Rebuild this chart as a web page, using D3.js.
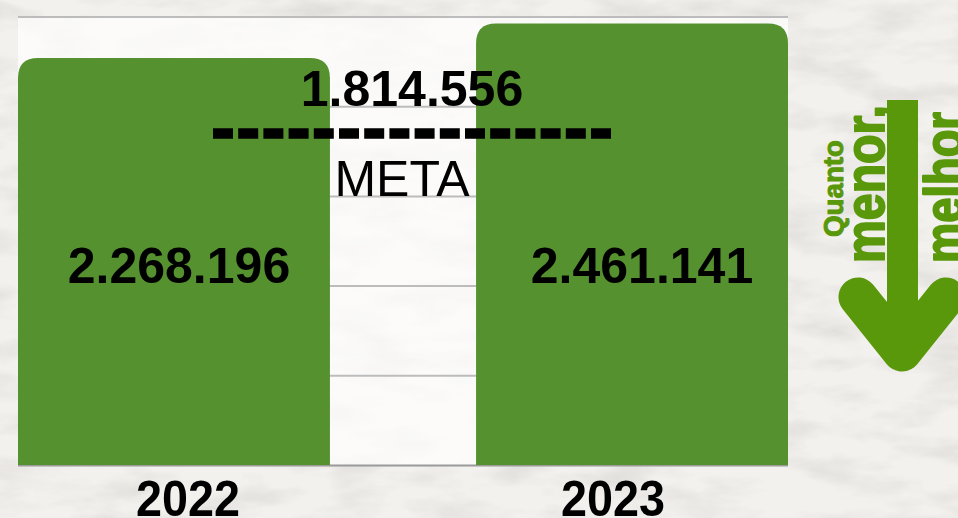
<!DOCTYPE html>
<html>
<head>
<meta charset="utf-8">
<script src="https://cdn.jsdelivr.net/npm/d3@7"></script>
<style>
  html, body { margin: 0; padding: 0; background: #f1efec; overflow: hidden; }
  text { font-family: Arial, "Liberation Sans", sans-serif; }
</style>
</head>
<body>
<div id="chart"></div>
<script>
'use strict';

// chart data
const years = ["2022", "2023"];
const values = [2268196, 2461141];
const meta = 1814556;
const metaName = "META";
const yTicks = [0, 500000, 1000000, 1500000, 2000000, 2500000];
const arrowWords = ["Quanto", "menor,", "melhor"];

(function() {

  const width = 958, height = 518;
  const barColor = "#55912f";
  const arrowColor = "#5a980b";

  // numbers like 2.268.196
  const fmt = d3.formatLocale({decimal: ",", thousands: ".", grouping: [3], currency: ["R$", ""]}).format(",d");

  const svg = d3.select("#chart")
    .append("svg")
    .attr("width", width)
    .attr("height", height);

  // paper texture background
  const defs = svg.append("defs");
  const paper = defs.append("filter").attr("id", "paper")
    .attr("x", 0).attr("y", 0).attr("width", "100%").attr("height", "100%");
  paper.append("feTurbulence")
    .attr("type", "fractalNoise")
    .attr("baseFrequency", "0.012 0.035")
    .attr("numOctaves", 4)
    .attr("seed", 7);
  paper.append("feColorMatrix")
    .attr("type", "matrix")
    .attr("values", "0 0 0 0 0.55  0 0 0 0 0.53  0 0 0 0 0.51  0 0 0 -2.2 1.25");

  svg.append("rect").attr("width", width).attr("height", height).attr("fill", "#f3f1ee");
  svg.append("rect").attr("width", width).attr("height", height)
    .attr("filter", "url(#paper)").attr("opacity", 0.4);

  // scales
  const plot = {left: 18, right: 788, top: 16.5, bottom: 465};

  const x = d3.scaleBand()
    .domain(years)
    .range([plot.left, plot.right])
    .paddingInner(0.319)
    .paddingOuter(0);

  const y = d3.scaleLinear()
    .domain([0, d3.max(yTicks)])
    .range([plot.bottom, plot.top]);

  // plot area (lighter)
  svg.append("rect")
    .attr("x", plot.left)
    .attr("y", plot.top)
    .attr("width", plot.right - plot.left)
    .attr("height", plot.bottom - plot.top)
    .attr("fill", "#ffffff")
    .attr("opacity", 0.7);

  // gridlines
  const grid = svg.append("g")
    .attr("transform", `translate(${plot.left},0)`)
    .call(d3.axisLeft(y)
      .tickValues(yTicks)
      .tickSize(-(plot.right - plot.left))
      .tickFormat(""));
  grid.select(".domain").remove();
  grid.selectAll(".tick line")
    .attr("stroke", (d) => d === 0 ? "#9a9a9a" : "#bcbcbc")
    .attr("stroke-width", 2);

  // bars with rounded top corners
  function roundedTop(x0, y0, w, h, r) {
    return `M${x0},${y0 + h}V${y0 + r}Q${x0},${y0} ${x0 + r},${y0}` +
      `H${x0 + w - r}Q${x0 + w},${y0} ${x0 + w},${y0 + r}V${y0 + h}Z`;
  }

  const bars = years.map((yr, i) => ({year: yr, value: values[i]}));

  svg.selectAll(".bar")
    .data(bars)
    .enter()
    .append("path")
      .attr("class", "bar")
      .attr("fill", barColor)
      .attr("d", (d) => roundedTop(x(d.year), y(d.value), x.bandwidth(),
        y(0) - y(d.value), 20));

  // value labels inside bars
  const labelOffset = [5, 10];
  svg.selectAll(".val")
    .data(bars)
    .enter()
    .append("text")
      .attr("class", "val")
      .attr("x", (d, i) => x(d.year) + x.bandwidth() / 2 + labelOffset[i])
      .attr("y", 283)
      .attr("text-anchor", "middle")
      .style("font-size", "50px")
      .style("font-weight", "bold")
      .attr("fill", "#000")
      .text((d) => fmt(d.value));

  // meta line
  const mid = (plot.left + plot.right) / 2;
  const metaY = y(meta) - 6;
  svg.append("line")
    .attr("x1", mid - 190)
    .attr("x2", mid + 212)
    .attr("y1", metaY)
    .attr("y2", metaY)
    .attr("stroke", "#000")
    .attr("stroke-width", 10.5)
    .attr("stroke-dasharray", "20,5.2");

  svg.append("text")
    .attr("x", mid + 9)
    .attr("y", metaY - 27)
    .attr("text-anchor", "middle")
    .style("font-size", "50px")
    .style("font-weight", "bold")
    .text(fmt(meta));

  svg.append("text")
    .attr("x", mid - 1)
    .attr("y", metaY + 63)
    .attr("text-anchor", "middle")
    .style("font-size", "50px")
    .text(metaName);

  // year labels
  const yearOffset = [14, -19];
  svg.selectAll(".year")
    .data(years)
    .enter()
    .append("text")
      .attr("class", "year")
      .attr("x", (d, i) => x(d) + x.bandwidth() / 2 + yearOffset[i])
      .attr("y", 516)
      .attr("text-anchor", "middle")
      .attr("textLength", 104)
      .attr("lengthAdjust", "spacingAndGlyphs")
      .style("font-size", "50px")
      .style("font-weight", "bold")
      .attr("fill", "#000")
      .text((d) => d);

  // "quanto menor, melhor" arrow
  const arrow = svg.append("g").attr("fill", arrowColor);
  arrow.append("rect")
    .attr("x", 887)
    .attr("y", 100)
    .attr("width", 31)
    .attr("height", 250);
  arrow.append("path")
    .attr("d", "M858,297L902,352L946,297")
    .attr("fill", "none")
    .attr("stroke", arrowColor)
    .attr("stroke-width", 39)
    .attr("stroke-linecap", "round")
    .attr("stroke-linejoin", "round");

  const words = [
    {text: arrowWords[0], x: 843, y: 237, size: 27, len: 97, sw: 1},
    {text: arrowWords[1], x: 884, y: 263, size: 56, len: 158, sw: 2},
    {text: arrowWords[2], x: 963, y: 263, size: 56, len: 151, sw: 2}
  ];
  arrow.selectAll(".word")
    .data(words)
    .enter()
    .append("text")
      .attr("class", "word")
      .attr("transform", (d) => `translate(${d.x},${d.y})rotate(-90)`)
      .attr("textLength", (d) => d.len)
      .attr("lengthAdjust", "spacingAndGlyphs")
      .style("font-size", (d) => d.size + "px")
      .style("font-weight", "bold")
      .attr("fill", arrowColor)
      .attr("stroke", arrowColor)
      .attr("stroke-width", (d) => d.sw)
      .attr("stroke-linejoin", "round")
      .text((d) => d.text);

})();
</script>
</body>
</html>
